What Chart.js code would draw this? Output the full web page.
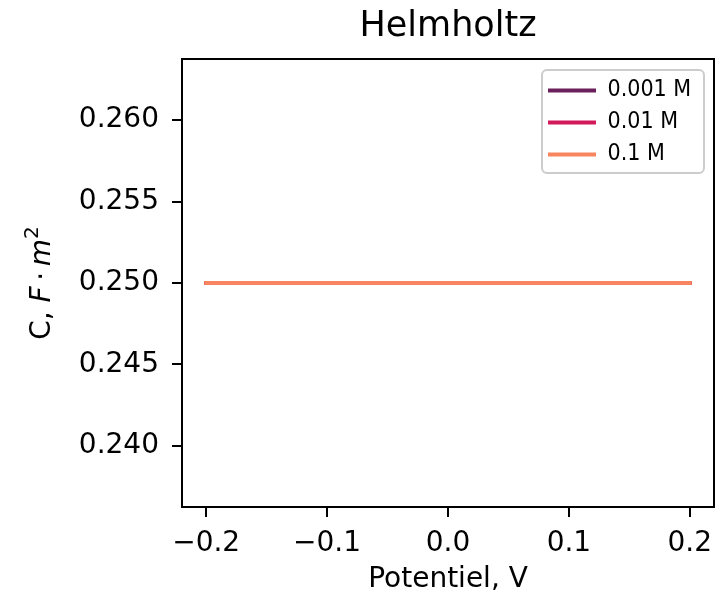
<!DOCTYPE html>
<html>
<head>
<meta charset="utf-8">
<script src="https://cdn.jsdelivr.net/npm/chart.js@4"></script>
<style>
  html, body { margin: 0; padding: 0; background: #fff; }
  #myChart { display: block; background: #fff; }
</style>
</head>
<body>
<canvas id="myChart" width="717" height="599"></canvas>
<script>
// data
var potentials = [-0.2, -0.1, 0.0, 0.1, 0.2];
var c_0001 = [0.25, 0.25, 0.25, 0.25, 0.25];
var c_001 = [0.25, 0.25, 0.25, 0.25, 0.25];
var c_01 = [0.25, 0.25, 0.25, 0.25, 0.25];
var seriesLabels = ['0.001 M', '0.01 M', '0.1 M'];
var xTicks = [-0.2, -0.1, 0.0, 0.1, 0.2];
var yTicks = [0.240, 0.245, 0.250, 0.255, 0.260];

var seriesColors = ['#6b1f5b', '#d2195a', '#f7855f'];
var FONT = 'DejaVu Sans';

function toPoints(xs, ys) {
    return xs.map(function (x, i) { return { x: x, y: ys[i] }; });
}

var allSeries = [c_0001, c_001, c_01];
var datasets = allSeries.map(function (vals, i) {
    return {
        label: seriesLabels[i],
        data: toPoints(potentials, vals),
        borderColor: seriesColors[i],
        backgroundColor: seriesColors[i],
        borderWidth: 4,
        pointRadius: 0,
        pointBorderWidth: 4,
        pointBorderColor: seriesColors[i],
        borderCapStyle: 'square',
        // later series are drawn on top, like matplotlib
        order: allSeries.length - i
    };
});

// legend frame + moving the legend into the top-right corner
var legendPlacer = {
    id: 'legendPlacer',
    afterLayout: function (chart) {
        var a = chart.chartArea;
        var lg = chart.legend;
        lg.left = a.right - 175;
        lg.top = a.top + 11;
        lg.right = lg.left + lg.width;
        lg.bottom = lg.top + lg.height;
    },
    beforeDraw: function (chart) {
        var a = chart.chartArea;
        var ctx = chart.ctx;
        ctx.save();
        ctx.fillStyle = 'rgba(255,255,255,0.8)';
        ctx.strokeStyle = '#cccccc';
        ctx.lineWidth = 2;
        ctx.beginPath();
        ctx.roundRect(a.right - 172, a.top + 11, 162, 103, 5);
        ctx.fill();
        ctx.stroke();
        ctx.restore();
    }
};

// top and right spines, and the y label with mathtext style parts
var frameAndLabel = {
    id: 'frameAndLabel',
    afterDraw: function (chart) {
        var a = chart.chartArea;
        var ctx = chart.ctx;
        ctx.save();
        ctx.strokeStyle = '#000';
        ctx.lineWidth = 2;
        ctx.beginPath();
        ctx.moveTo(a.left, a.top);
        ctx.lineTo(a.right, a.top);
        ctx.lineTo(a.right, a.bottom);
        ctx.stroke();

        var parts = [
            { t: 'C, ', f: '28px "' + FONT + '"', dy: 0 },
            { t: 'F', f: 'italic 28px "' + FONT + '"', dy: 0 },
            { t: '\u2009\u00b7\u2009', f: '28px "' + FONT + '"', dy: 0 },
            { t: 'm', f: 'italic 28px "' + FONT + '"', dy: 0 },
            { t: '2', f: '20px "' + FONT + '"', dy: -12 }
        ];
        var total = 0;
        parts.forEach(function (p) { ctx.font = p.f; p.w = ctx.measureText(p.t).width; total += p.w; });
        ctx.translate(50, (a.top + a.bottom) / 2);
        ctx.rotate(-Math.PI / 2);
        ctx.fillStyle = '#000';
        ctx.textBaseline = 'alphabetic';
        ctx.textAlign = 'left';
        var x = -total / 2;
        parts.forEach(function (p) {
            ctx.font = p.f;
            ctx.fillText(p.t, x, p.dy);
            x += p.w;
        });
        ctx.restore();
    }
};

Chart.defaults.font.family = FONT;
Chart.defaults.color = '#000';

const ctx = document.getElementById('myChart');
new Chart(ctx, {
    type: 'line',
    data: { datasets: datasets },
    options: {
        responsive: false,
        animation: false,
        devicePixelRatio: 1,
        layout: { padding: { left: 0, right: 3, top: 0, bottom: 0 } },
        plugins: {
            title: {
                display: true,
                fullSize: false,
                text: 'Helmholtz',
                color: '#000',
                font: { family: FONT, size: 35, weight: 'normal' },
                padding: { top: 6, bottom: 11 }
            },
            legend: {
                position: 'chartArea',
                align: 'start',
                labels: {
                    usePointStyle: true,
                    pointStyle: 'line',
                    pointStyleWidth: 48,
                    color: '#000',
                    padding: 9,
                    font: { family: 'DejaVu Sans Condensed', size: 23 },
                    sort: function (a, b) { return a.datasetIndex - b.datasetIndex; }
                }
            },
            tooltip: { enabled: false }
        },
        scales: {
            x: {
                type: 'linear',
                min: -0.22,
                max: 0.22,
                afterFit: function (scale) {
                    scale.height = 92;
                    scale.paddingLeft = 0;
                    scale.paddingRight = 0;
                },
                afterBuildTicks: function (scale) {
                    scale.ticks = xTicks.map(function (v) { return { value: v }; });
                },
                ticks: {
                    color: '#000',
                    padding: 10,
                    font: { family: FONT, size: 28 },
                    maxRotation: 0,
                    callback: function (v) { return v.toFixed(1).replace('-', '\u2212'); }
                },
                grid: { drawOnChartArea: false, drawTicks: true, tickLength: 10, color: '#000', lineWidth: 2 },
                border: { display: true, color: '#000', width: 2 },
                title: {
                    display: true,
                    text: 'Potentiel, V',
                    color: '#000',
                    font: { family: FONT, size: 28 },
                    padding: { top: 0, bottom: 2 }
                }
            },
            y: {
                type: 'linear',
                min: 0.23625,
                max: 0.26375,
                afterFit: function (scale) { scale.width = 182; },
                afterBuildTicks: function (scale) {
                    scale.ticks = yTicks.map(function (v) { return { value: v }; });
                },
                ticks: {
                    color: '#000',
                    padding: 13,
                    font: { family: FONT, size: 28 },
                    callback: function (v) { return v.toFixed(3); }
                },
                grid: { drawOnChartArea: false, drawTicks: true, tickLength: 10, color: '#000', lineWidth: 2 },
                border: { display: true, color: '#000', width: 2 }
            }
        }
    },
    plugins: [legendPlacer, frameAndLabel]
});
</script>
</body>
</html>
